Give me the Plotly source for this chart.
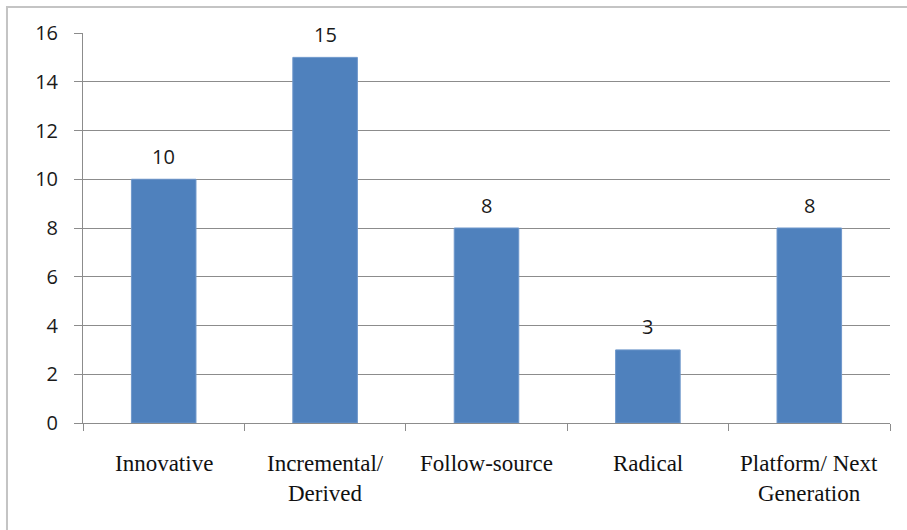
import plotly.graph_objects as go

# Project counts by innovation type
categories = ["Innovative", "Incremental/ Derived", "Follow-source", "Radical", "Platform/ Next Generation"]
label_lines = [["Innovative"], ["Incremental/", "Derived"], ["Follow-source"], ["Radical"], ["Platform/ Next", "Generation"]]
counts = [10, 15, 8, 3, 8]
y_ticks = [0, 2, 4, 6, 8, 10, 12, 14, 16]

BAR = "#4F81BD"
GRID = "#8C8C8C"
SANS = "Open Sans, Liberation Sans, Arial, sans-serif"
SERIF = "Liberation Serif, Times New Roman, serif"

fig = go.Figure()
fig.add_trace(go.Bar(
    x=categories,
    y=counts,
    marker=dict(color=BAR, line=dict(color="#6E97CB", width=1)),
    hoverinfo="x+y",
))

# value labels above each bar
for c, v in zip(categories, counts):
    fig.add_annotation(
        x=c, y=v, xref="x", yref="y", text=str(v), showarrow=False,
        yanchor="middle", yshift=23,
        font=dict(family=SANS, size=20, color="#1A1A1A"),
    )

# category labels, one annotation per line for tall line spacing
for c, lines in zip(categories, label_lines):
    for i, line in enumerate(lines):
        fig.add_annotation(
            x=c, y=0, xref="x", yref="y", text=line, showarrow=False,
            yanchor="middle", yshift=-40 - 30 * i,
            font=dict(family=SERIF, size=23, color="#111111"),
        )

# outer chart frame
fig.add_shape(
    type="rect", xref="paper", yref="paper",
    x0=-0.0942, x1=1.2, y0=-0.4, y1=1.0667,
    line=dict(color="#C4C4C4", width=2), fillcolor="rgba(0,0,0,0)", layer="below",
)

fig.update_layout(
    width=907, height=530,
    margin=dict(l=83, r=17, t=33, b=107),
    paper_bgcolor="white", plot_bgcolor="white",
    bargap=0.6,
    showlegend=False,
    xaxis=dict(
        type="category",
        showticklabels=False,
        tickson="boundaries",
        ticks="outside", ticklen=7, tickcolor=GRID, tickwidth=1,
        showline=True, linecolor=GRID, linewidth=1,
        showgrid=False, zeroline=False,
    ),
    yaxis=dict(
        range=[0, 16],
        tickvals=y_ticks,
        ticks="outside", ticklen=8, tickcolor=GRID, tickwidth=1,
        ticklabelstandoff=12,
        tickfont=dict(family=SANS, size=20, color="#1A1A1A"),
        showline=True, linecolor=GRID, linewidth=1,
        showgrid=True, gridcolor=GRID, gridwidth=1,
        zeroline=False,
    ),
)

fig.write_html("out.html")
